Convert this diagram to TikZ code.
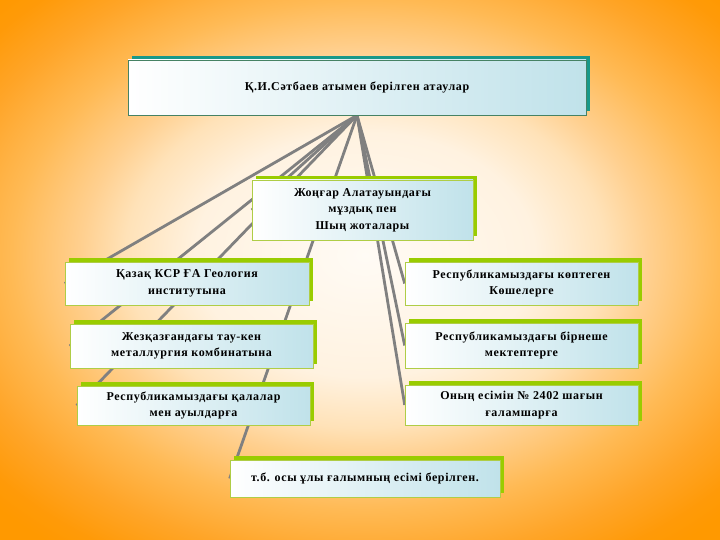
\documentclass[tikz,border=0pt]{standalone}
\usepackage{fontspec}
\setmainfont{Liberation Serif}[LetterSpace=5]
\usetikzlibrary{shadows}
\definecolor{bgorange}{RGB}{255,153,0}
\definecolor{bgc0}{RGB}{255,251,245}
\definecolor{bgc1}{RGB}{255,242,224}
\definecolor{bgc2}{RGB}{255,226,184}
\definecolor{bgc3}{RGB}{255,208,144}
\definecolor{bgc4}{RGB}{255,186,85}
\definecolor{bgc5}{RGB}{255,165,40}
\definecolor{bgc6}{RGB}{255,154,8}
\definecolor{boxblue}{RGB}{192,226,234}
\definecolor{tealshadow}{RGB}{24,152,138}
\definecolor{greenshadow}{RGB}{153,204,0}
\definecolor{tealborder}{RGB}{70,130,100}
\definecolor{greenborder}{RGB}{175,205,70}
\definecolor{linegray}{RGB}{128,128,128}
\pgfdeclareradialshading{bgshade}{\pgfpoint{0bp}{0bp}}{%
  color(0bp)=(bgc0); color(10.6bp)=(bgc1); color(15bp)=(bgc2); color(17.7bp)=(bgc3);
  color(22.1bp)=(bgc4); color(26.5bp)=(bgc5); color(30bp)=(bgc6); color(31.8bp)=(bgorange); color(50bp)=(bgorange)}
\pgfdeclarelayer{bglayer}
\pgfdeclarelayer{linelayer}
\pgfsetlayers{bglayer,linelayer,main}
\tikzset{
  boxbase/.style={rectangle, inner sep=0pt, align=center, left color=white, right color=boxblue,
    font=\bfseries\fontsize{12}{16.5}\selectfont, text=black, line width=0.6pt},
  greenbox/.style={boxbase, draw=greenborder,
    drop shadow={shadow xshift=4pt, shadow yshift=4pt, fill=greenshadow, opacity=1}},
  tealbox/.style={boxbase, draw=tealborder,
    drop shadow={shadow xshift=4pt, shadow yshift=4pt, fill=tealshadow, opacity=1}},
  conn/.style={draw=linegray, line width=2.8pt}
}
\begin{document}
\begin{tikzpicture}[x=1pt, y=-1pt]
\useasboundingbox (0,0) rectangle (720,540);
\begin{pgfonlayer}{bglayer}
\fill[bgorange] (0,0) rectangle (720,540);
\begin{scope}[transform canvas={yscale=0.72}]
\shade[shading=bgshade] (-35,-46) rectangle (765,754);
\end{scope}
\end{pgfonlayer}
\node[tealbox, minimum width=458pt, minimum height=55pt] (top) at (357,87.5) {Қ.И.Сәтбаев атымен берілген атаулар};
\node[greenbox, minimum width=221pt, minimum height=60pt] (mid) at (362.5,210) {Жоңғар Алатауындағы\\мұздық пен\\Шың жоталары};
\node[greenbox, minimum width=244pt, minimum height=43pt] (l1) at (187,283.5) {Қазақ КСР ҒА Геология\\институтына};
\node[greenbox, minimum width=243pt, minimum height=44pt] (l2) at (191.5,346) {Жезқазғандағы тау-кен\\металлургия комбинатына};
\node[greenbox, minimum width=233pt, minimum height=39pt] (l3) at (193.5,405.5) {Республикамыздағы қалалар\\мен ауылдарға};
\node[greenbox, minimum width=233pt, minimum height=43pt] (r1) at (521.5,283.5) {Республикамыздағы көптеген\\Көшелерге};
\node[greenbox, minimum width=233pt, minimum height=45pt] (r2) at (521.5,345.5) {Республикамыздағы бірнеше\\мектептерге};
\node[greenbox, minimum width=233pt, minimum height=40pt] (r3) at (521.5,405) {Оның есімін № 2402 шағын\\ғаламшарға};
\node[greenbox, minimum width=270pt, minimum height=37pt] (bot) at (365,478.5) {т.б. осы ұлы ғалымның есімі берілген.};
\begin{pgfonlayer}{linelayer}
\foreach \t in {mid,l1,l2,l3,r1,r2,r3,bot}
  \draw[conn] (top.south) -- (\t.west);
\end{pgfonlayer}
\end{tikzpicture}
\end{document}
